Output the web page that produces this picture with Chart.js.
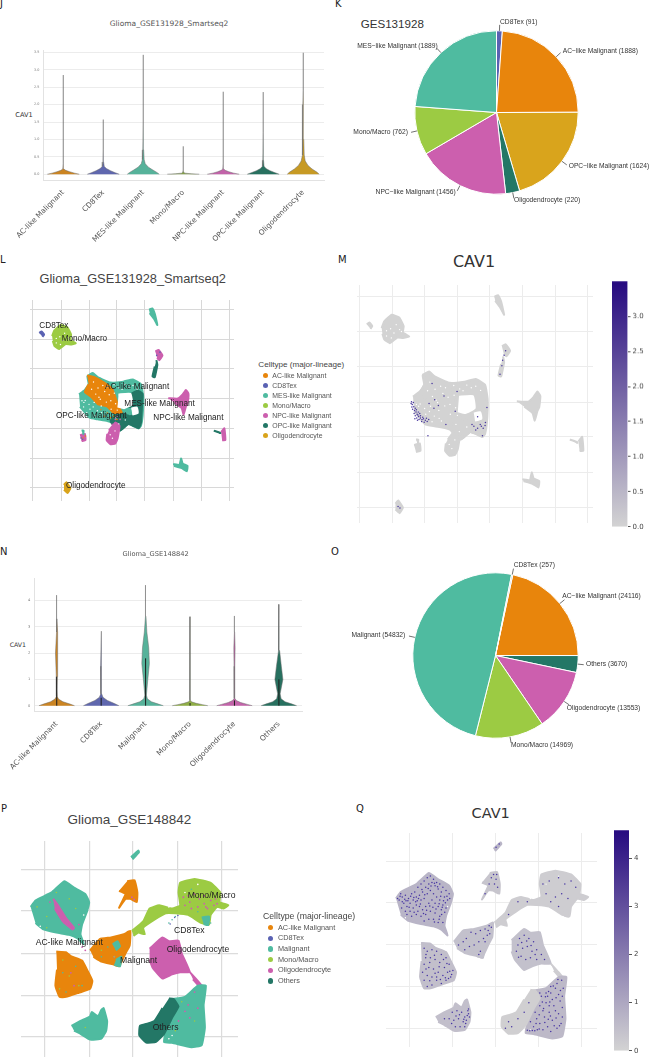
<!DOCTYPE html>
<html><head><meta charset="utf-8">
<style>
html,body{margin:0;padding:0;background:#fff;}
#page{position:relative;width:650px;height:1061px;overflow:hidden;background:#fff;}
canvas{position:absolute;display:block;}
.t{position:absolute;white-space:nowrap;line-height:1;}
.d{position:absolute;border-radius:50%;}
</style>
<script src="https://cdn.jsdelivr.net/npm/chart.js@4"></script>
</head><body><div id="page"></div>
<script>
// ---------- colours
const ORANGE='#e8850c',BLUE='#5a62b3',TEAL='#4fbba0',LIME='#9ccb43',PINK='#cc5fae',DARK='#237766',GOLD='#d9a41c';

// ---------- violin panel J
const catsJ=['AC-like Malignant','CD8Tex','MES-like Malignant','Mono/Macro','NPC-like Malignant','OPC-like Malignant','Oligodendrocyte'];
const colorsJ=['#cb8422','#5f67ae','#56b29a','#84a04a','#c263a9','#27705f','#c79a24'];
const jAC=[[0,.40],[.03,.28],[.07,.16],[.11,.06],[.15,.012],[.3,.004],[1.0,.003],[2.85,.002]];
const jCD8=[[0,.40],[.04,.3],[.1,.18],[.16,.08],[.22,.025],[.35,.008],[.7,.004],[1.57,.003]];
const jMES=[[0,.40],[.05,.34],[.12,.24],[.2,.13],[.3,.05],[.42,.022],[.7,.01],[1.5,.006],[2.5,.004],[3.43,.002]];
const jMono=[[0,.40],[.012,.2],[.03,.04],[.06,.01],[.12,.004],[.8,.002]];
const jNPC=[[0,.40],[.03,.26],[.07,.14],[.11,.05],[.15,.01],[.3,.004],[2.37,.002]];
const jOPC=[[0,.40],[.04,.3],[.1,.17],[.16,.07],[.23,.02],[.4,.008],[1.2,.005],[2.36,.002]];
const jOligo=[[0,.40],[.06,.34],[.15,.22],[.25,.12],[.38,.05],[.55,.025],[1.0,.014],[2.0,.008],[2.4,.004],[3.49,.002]];
const violinsJ=[jAC,jCD8,jMES,jMono,jNPC,jOPC,jOligo];
const ticksJ=[0,.5,1,1.5,2,2.5,3,3.5];

// ---------- violin panel N
const catsN=['AC-like Malignant','CD8Tex','Malignant','Mono/Macro','Oligodendrocyte','Others'];
const colorsN=['#cb8422','#5f67ae','#56b29a','#8fae45','#c263a9','#27705f'];
const nAC=[[0,.40],[.06,.3],[.15,.14],[.25,.04],[.35,.01],[.6,.005],[1.1,.01],[2,.028],[2.8,.012],[3.3,.003],[4.2,.002]];
const nCD8=[[0,.40],[.08,.3],[.2,.14],[.32,.04],[.45,.012],[.8,.006],[1.5,.012],[2.83,.002]];
const nMal=[[0,.40],[.06,.29],[.15,.13],[.26,.04],[.4,.018],[1.0,.05],[1.6,.085],[2.2,.07],[2.8,.028],[3.4,.008],[4.58,.002]];
const nMono=[[0,.40],[.04,.28],[.09,.14],[.15,.03],[.22,.006],[.5,.003],[3.38,.002]];
const nOligo=[[0,.40],[.05,.29],[.12,.14],[.2,.04],[.28,.008],[.6,.004],[1.5,.01],[2.2,.014],[2.8,.004],[3.41,.002]];
const nOthers=[[0,.40],[.06,.3],[.15,.14],[.26,.05],[.45,.028],[1.0,.09],[1.5,.055],[2.1,.016],[2.6,.004],[3.85,.002]];
const violinsN=[nAC,nCD8,nMal,nMono,nOligo,nOthers];
const innerN=[1.1,.3,1.8,.1,.2,1.0];
const ticksN=[0,1,2,3,4];

// ---------- pies
const pieKLabels=['CD8Tex','AC−like Malignant','OPC−like Malignant','Oligodendrocyte','NPC−like Malignant','Mono/Macro','MES−like Malignant'];
const pieKValues=[91,1888,1624,220,1456,762,1889];
const pieKColors=[BLUE,ORANGE,GOLD,DARK,PINK,LIME,TEAL];
const pieOLabels=['AC−like Malignant','Others','Oligodendrocyte','Mono/Macro','Malignant','CD8Tex'];
const pieOValues=[24116,3670,13553,14969,54832,257];
const pieOColors=[ORANGE,DARK,PINK,LIME,TEAL,'#a9b4c4'];

// ---------- UMAP 1 (panels L and M, arbitrary embedding units)
const grid1X=[88,176,263,350,437,525,614,700], grid1Y=[167,260,352,446,538,631,724];
const u1MES=[[232,432],[250,418],[262,400],[258,375],[275,365],[290,378],[330,395],[370,392],[400,385],[425,400],[432,440],[430,500],[425,530],[418,538],[400,530],[385,525],[360,545],[345,525],[320,515],[290,510],[265,505],[235,470]];
const u1Hole=[[355,432],[392,430],[397,462],[372,475],[352,470]];
const u1Hole2=[[395,476],[412,473],[415,490],[398,495]];
const u1AC=[[257,373],[280,378],[310,395],[335,415],[345,440],[355,470],[365,488],[340,490],[320,470],[290,462],[270,440],[250,425],[262,400]];
const u1OPC=[[395,430],[415,420],[430,430],[428,470],[425,520],[418,538],[400,530],[385,525],[360,545],[340,530],[330,515],[345,495],[365,490],[390,500],[410,495],[416,475],[385,470],[375,455]];
const u1NPC=[[325,545],[345,520],[358,530],[352,570],[345,585],[330,588],[318,575],[320,555]];
const u1CD8=[[108,240],[115,235],[123,245],[118,252]];
const u1Mono=[[148,250],[155,232],[175,215],[195,222],[207,245],[205,262],[222,272],[205,276],[190,275],[170,290],[155,280],[150,265]];
const u1Top=[[450,167],[460,163],[468,180],[476,215],[465,195],[452,178]];
const u1MidN=[[470,298],[480,293],[492,310],[482,325],[475,318]];
const u1MidO=[[473,325],[476,340],[468,378],[461,376],[468,345]];
const u1RightN=[[510,444],[540,445],[555,432],[565,418],[573,430],[570,460],[565,470],[558,495],[552,475],[530,458]];
const u1FarN=[[675,550],[685,538],[688,575],[678,575]];
const u1FarO=[[652,545],[672,552],[672,556]];
const u1LowM=[[525,650],[545,652],[550,632],[555,648],[570,655],[568,672],[552,662],[528,655]];
const u1SmallN=[[235,560],[250,555],[252,575],[240,578]];
const u1SmallM=[[240,545],[246,545],[245,558]];
const u1Oligo=[[185,715],[192,706],[205,725],[196,740],[185,730]];
const polys1=[u1MES,u1OPC,u1AC,u1Hole,u1Hole2,u1NPC,u1CD8,u1Mono,u1Top,u1MidN,u1MidO,u1RightN,u1FarN,u1FarO,u1LowM,u1SmallN,u1SmallM,u1Oligo];
const colors1=[TEAL,DARK,ORANGE,'#fff','#fff',PINK,BLUE,LIME,TEAL,PINK,DARK,PINK,PINK,DARK,TEAL,PINK,TEAL,GOLD];
const white1=[291,412,312,423,298,447,331,452,346,461,326,433,284,431,271,416,251,451,266,478,289,483,308,496,246,471,301,468,332,478,357,411,388,408,376,401,172,252,181,263,161,257,187,241,196,254,174,276,277,393,319,408,341,402,279,457,256,489,400,404,347,505,336,569,329,558,344,546,306,404,294,441,317,456,351,481,376,512,356,524,241,452,276,471,302,489,161,271,201,259,263,463,247,457,283,498,342,428,366,416,413,415];
const orange1=[300,480,320,490,340,500,330,505,350,510,244,568,252,562,310,500];
const pink1=[350,500,345,510,360,510,335,525,482,305,478,312];
const blue1=[484,300,474,310,238,568,243,572];
const purple1=[228,445,233,447,227,450,230,452,234,458,229,459,231,465,238,462,236,468,241,466,240,472,246,472,235,476,243,478,250,476,245,480,238,482,247,484,252,482,242,488,258,486,252,488,268,489,248,492,256,492,260,490,237,490,274,492,265,494,244,494,255,497,262,499,270,497,350,418,283,397,300,455,315,430,288,462,320,505,345,470,430,460,426,500,405,485,395,510,405,515,415,510,425,508,400,520,420,515,412,505,390,505,418,535,272,535,472,335,470,350,465,372,480,310,476,322,192,722,197,726,290,440,275,450];

// ---------- UMAP 2 (panels P and Q, arbitrary embedding units)
const grid2X=[124,262,398,536,673], grid2Y=[229,358,490,620,750];
const u2UL=[[80,345],[95,325],[145,300],[185,265],[215,285],[250,305],[262,330],[255,360],[240,400],[235,430],[245,460],[225,442],[200,432],[160,425],[120,415],[95,395]];
const u2Streak=[[150,320],[165,340],[190,380],[215,410],[210,415],[180,390],[155,350]];
const u2LL=[[160,484],[190,486],[205,498],[240,512],[255,540],[272,575],[265,600],[230,612],[190,625],[170,625],[157,590],[162,540]];
const u2Mid=[[265,480],[295,445],[330,440],[370,430],[390,420],[388,465],[375,490],[355,530],[340,525],[300,515],[275,500]];
const u2Frag1=[[335,462],[350,452],[358,468],[345,480]];
const u2Frag2=[[345,510],[362,500],[358,530],[340,525]];
const u2Top=[[380,265],[403,262],[412,300],[410,330],[390,320],[375,320],[355,348],[375,305],[355,295]];
const u2Thin=[[392,190],[415,170],[417,175],[397,197]];
const u2Mono=[[395,420],[430,390],[450,350],[480,340],[520,350],[545,340],[540,300],[545,270],[590,258],[640,270],[670,300],[668,330],[695,340],[680,350],[660,345],[640,370],[635,400],[610,395],[570,370],[530,365],[500,365],[465,385],[430,410],[435,430],[415,425],[400,435]];
const u2MonoTeal=[[612,378],[635,375],[632,402],[618,398]];
const u2Oligo=[[450,475],[490,440],[510,452],[540,450],[550,490],[575,548],[545,548],[520,555],[490,568],[460,535],[450,510]];
const u2Bridge=[[575,548],[600,575],[612,590],[605,592],[585,570]];
const u2LR=[[520,632],[560,625],[600,590],[625,590],[618,650],[622,720],[612,775],[580,782],[520,768],[495,765],[500,735],[520,690],[540,655]];
const u2Others=[[510,630],[525,632],[540,655],[520,690],[495,740],[470,765],[440,767],[418,745],[420,715],[445,708],[465,700],[490,660]];
const u2BL=[[207,715],[235,700],[265,685],[270,672],[290,685],[300,665],[307,660],[318,700],[315,730],[300,755],[265,758],[235,740],[215,730]];
const polys2=[u2UL,u2Streak,u2LL,u2Mid,u2Frag1,u2Frag2,u2Top,u2Thin,u2Mono,u2MonoTeal,u2Oligo,u2Bridge,u2LR,u2Others,u2BL];
const colors2=[TEAL,PINK,ORANGE,ORANGE,TEAL,TEAL,ORANGE,TEAL,LIME,TEAL,PINK,PINK,TEAL,DARK,TEAL];
const levels2=[.15,.15,.1,.09,.09,.09,.07,.15,.03,.03,.09,.03,.13,.02,.1];
const pink2=[555,315,575,330,590,305,605,320,620,335,640,325,655,320,650,340,630,350,600,345,580,350,560,340,570,310,620,310,660,335,625,345,395,315,402,322,170,360,140,330,185,395,230,400,560,670,570,650,590,610,540,700,600,660,575,690,205,550,215,590,340,500,240,470,250,480];
const lime2=[100,345,130,375,160,300,200,320,220,350,130,410,180,510,200,560,230,590,170,600,300,480,340,500,550,640,590,700,530,730,250,720];
const teal2=[180,550,220,530,240,590,190,610,320,470,300,500,510,395,520,385,530,375,640,395,580,290,600,360];
const white2=[200,480,215,495,235,490,255,510,275,530,190,445,235,475,250,495,270,515,300,535,110,405,245,370,560,300,600,275,510,345,520,745,510,755];
const blue2=[514,398,528,378,538,372];
const purple2=[90,350,100,340,110,335,120,345,105,360,115,370,130,330,140,325,135,350,125,360,145,340,150,310,160,300,170,290,180,280,190,275,200,285,210,295,220,300,230,310,240,320,250,330,245,350,235,340,225,325,215,315,205,305,195,295,185,300,175,310,165,325,155,335,160,350,170,345,180,330,190,320,200,330,210,340,220,350,230,365,240,375,225,380,215,370,205,360,195,350,185,360,175,370,165,380,155,370,145,365,135,375,125,385,115,395,130,400,145,395,160,400,175,395,190,385,205,390,220,400,230,420,215,420,200,410,185,410,170,415,150,385,110,385,98,375,100,355,85,345,95,330,
93,338,108,347,118,352,127,338,137,342,143,355,152,345,163,317,172,333,183,314,192,306,203,297,213,308,223,338,232,352,243,338,252,345,238,358,228,372,218,361,208,378,198,372,188,368,178,382,168,392,158,362,148,352,138,388,122,372,112,352,203,418,218,410,226,395,236,388,
170,500,180,510,195,505,210,510,225,520,240,530,250,550,262,570,255,590,240,600,225,610,210,600,195,615,180,620,170,600,165,575,170,550,175,530,190,530,205,535,220,545,235,560,245,575,230,585,215,575,200,565,185,560,180,585,195,590,210,590,248,595,258,582,176,520,188,545,203,522,218,558,232,535,243,548,252,572,238,592,222,598,205,578,188,602,176,565,
280,490,295,480,305,470,320,450,335,455,350,445,365,440,375,445,385,435,372,460,380,455,360,470,345,480,330,490,315,495,300,505,350,510,345,520,365,480,378,430,
385,280,392,270,400,285,378,300,405,310,395,300,365,330,402,270,400,185,410,175,
570,290,600,280,620,300,640,290,655,310,560,330,590,340,610,330,630,345,600,370,575,355,550,300,470,355,500,355,440,395,
475,470,490,460,505,470,520,480,470,490,485,500,500,495,515,510,530,505,545,520,465,510,480,525,495,535,510,530,530,535,555,535,482,482,498,478,512,492,525,520,472,528,
540,640,560,640,575,620,595,610,610,600,615,625,600,645,580,660,560,670,540,680,525,700,510,730,520,745,540,735,555,715,570,700,585,680,605,665,612,685,600,705,580,725,565,745,550,755,575,760,595,750,608,735,612,715,590,695,570,680,550,695,530,720,500,756,508,758,516,757,524,758,532,755,545,650,565,650,590,625,548,668,558,652,568,635,583,618,598,598,606,632,592,655,572,668,552,688,538,708,528,735,538,752,556,732,574,712,592,718,603,742,586,742,567,722,612,650,575,640,
440,730,450,745,470,720,490,700,430,750,505,670,
260,700,275,695,290,700,300,715,310,695,312,705,315,715,308,710,305,725,312,690,295,730,280,720,265,725,250,720,235,720,285,745,270,745,300,745,283,708,297,722,272,712,258,735,303,735];

// ---------- colourbars
const barMTicks=[0,.5,1,1.5,2,2.5,3];
const barQTicks=[0,1,2,3,4];

// ---------- legends
const legendL=[['AC-like Malignant',ORANGE],['CD8Tex',BLUE],['MES-like Malignant',TEAL],['Mono/Macro',LIME],['NPC-like Malignant',PINK],['OPC-like Malignant',DARK],['Oligodendrocyte',GOLD]];
const legendP=[['AC-like Malignant',ORANGE],['CD8Tex',BLUE],['Malignant',TEAL],['Mono/Macro',LIME],['Oligodendrocyte',PINK],['Others',DARK]];

// ====================================================== helpers
const page=document.getElementById('page');
const SANS='"Liberation Sans",Arial,sans-serif', DJ='"DejaVu Sans",sans-serif';
function text(x,y,s,o={}){
  const e=document.createElement('div');e.className='t';e.textContent=s;
  e.style.left=x+'px';e.style.top=y+'px';
  e.style.fontFamily=o.font||SANS;e.style.fontSize=(o.size||8)+'px';e.style.color=o.color||'#333';
  const tx=o.align==='center'?'-50%':o.align==='right'?'-100%':'0';
  e.style.transform=`translate(${tx},-50%)`;
  page.appendChild(e);
}
function canvas(x,y,w,h){
  const c=document.createElement('canvas');c.width=w;c.height=h;
  c.style.left=x+'px';c.style.top=y+'px';c.style.width=w+'px';c.style.height=h+'px';
  page.appendChild(c);return c;
}
const pts=f=>{const r=[];for(let i=0;i<f.length;i+=2)r.push({x:f[i],y:f[i+1]});return r;};
const polyDs=(p,col)=>({data:p.map(q=>({x:q[0],y:q[1]})),showLine:true,fill:'shape',backgroundColor:col,borderColor:col,borderWidth:2,pointRadius:0,tension:0.12});
const speck=(f,col,r)=>({data:pts(f),showLine:false,pointRadius:r,pointBorderWidth:0,pointBackgroundColor:col,backgroundColor:col});

function umap(px,py,w,h,xr,yr,gx,gy,ds,gridCol,gridW){
  const grid={color:gridCol,lineWidth:gridW,drawTicks:false};
  // Chart.js paints the first dataset on top, so the list (bottom-first) is reversed
  new Chart(canvas(px,py,w,h),{type:'scatter',data:{datasets:ds.slice().reverse()},options:{
    responsive:false,animation:false,layout:{padding:0},
    plugins:{legend:{display:false},tooltip:{enabled:false}},
    scales:{
      x:{type:'linear',min:xr[0],max:xr[1],grid,border:{display:false},ticks:{display:false},afterBuildTicks:a=>{a.ticks=gx.map(v=>({value:v}));}},
      y:{type:'linear',min:yr[0],max:yr[1],reverse:true,grid,border:{display:false},ticks:{display:false},afterBuildTicks:a=>{a.ticks=gy.map(v=>({value:v}));}}
    }}});
}
function violin(py,h,leftW,rightPad,topPad,bottomH,cats,cols,shapes,inner,yMin,yMax,yTicks,dec,xr,tickFont){
  const ds=[];
  shapes.forEach((s,i)=>{
    const right=s.map(p=>({x:i+p[1],y:p[0]}));
    const left=s.slice().reverse().map(p=>({x:i-p[1],y:p[0]}));
    if(inner)ds.push({data:[{x:i,y:0},{x:i,y:inner[i]}],showLine:true,borderColor:'#1c1c1c',borderWidth:1,pointRadius:0});
    ds.push({data:right.concat(left),showLine:true,fill:'shape',backgroundColor:cols[i],borderColor:'#6a6a6a',borderWidth:.5,pointRadius:0,tension:0});
  });
  new Chart(canvas(0,py,335,h),{type:'scatter',data:{datasets:ds},options:{
    responsive:false,animation:false,layout:{padding:{top:topPad,right:rightPad}},
    plugins:{legend:{display:false},tooltip:{enabled:false}},
    scales:{
      x:{type:'linear',min:xr[0],max:xr[1],grid:{display:false},border:{display:true,color:'#e2e2e2',width:1},
        afterBuildTicks:a=>{a.ticks=cats.map((c,i)=>({value:i}));},afterFit:s=>{s.height=bottomH;},
        ticks:{autoSkip:false,minRotation:45,maxRotation:45,padding:0,color:'#555',font:{family:DJ,size:7.4},callback:v=>cats[v]}},
      y:{type:'linear',min:yMin,max:yMax,grid:{color:'#ececec',lineWidth:1,drawTicks:false},border:{display:true,color:'#e2e2e2',width:1},
        afterBuildTicks:a=>{a.ticks=yTicks.map(v=>({value:v}));},afterFit:s=>{s.width=leftW;},
        ticks:{padding:4,color:'#777',font:{family:DJ,size:tickFont},callback:v=>v.toFixed(dec)}}
    }}});
}
const leaders={id:'leaders',afterDatasetsDraw(c){
  const g=c.ctx;g.save();g.strokeStyle='#333';g.lineWidth=.7;
  c.getDatasetMeta(0).data.forEach(a=>{
    const m=(a.startAngle+a.endAngle)/2,r=a.outerRadius;
    g.beginPath();g.moveTo(a.x+Math.cos(m)*r,a.y+Math.sin(m)*r);
    g.lineTo(a.x+Math.cos(m)*(r+6),a.y+Math.sin(m)*(r+6));g.stroke();
  });g.restore();
}};
function pie(cx,cy,r,labels,values,cols,rot){
  const m=r+10,s=Math.round(2*m);
  new Chart(canvas(cx-m,cy-m,s,s),{type:'pie',data:{labels,datasets:[{data:values,backgroundColor:cols,borderColor:'#fff',borderWidth:1,radius:r,hoverOffset:0}]},
    options:{responsive:false,animation:false,rotation:rot,layout:{padding:0},plugins:{legend:{display:false},tooltip:{enabled:false}}},plugins:[leaders]});
}
function colorbar(px,py,barW,totalW,barH,maxV,ticks,dec){
  const pad=6;
  new Chart(canvas(px,py-pad,totalW,barH+2*pad),{type:'bar',data:{labels:['CAV1'],datasets:[{data:[[0,maxV]],barPercentage:1,categoryPercentage:1,
      backgroundColor:ctx=>{const a=ctx.chart.chartArea;if(!a)return '#999';const g=ctx.chart.ctx.createLinearGradient(0,a.bottom,0,a.top);g.addColorStop(0,'#d3d3d3');g.addColorStop(1,'#260a80');return g;}}]},
    options:{responsive:false,animation:false,layout:{padding:{top:pad,bottom:pad}},plugins:{legend:{display:false},tooltip:{enabled:false}},
      scales:{x:{display:false},
        y:{position:'right',min:0,max:maxV,grid:{drawOnChartArea:false,drawTicks:true,tickLength:3,color:'#555'},border:{display:false},
          afterBuildTicks:a=>{a.ticks=ticks.map(v=>({value:v}));},afterFit:s=>{s.width=totalW-barW;},
          ticks:{padding:2,color:'#444',font:{family:DJ,size:7},callback:v=>v.toFixed(dec)}}}}});
}
function mix(l){const A=[211,211,211],B=[38,10,128];return `rgb(${A.map((a,i)=>Math.round(a+(B[i]-a)*l)).join(',')})`;}
function legend(x,yT,title,items,xDot,xTxt,yStart,step,sz,tsz){
  text(x,yT,title,{size:tsz,color:'#444'});
  items.forEach((it,i)=>{
    const y=yStart+i*step,d=document.createElement('div');d.className='d';
    d.style.cssText+=`left:${xDot-2.7}px;top:${y-2.7}px;width:5.4px;height:5.4px;background:${it[1]}`;
    page.appendChild(d);
    text(xTxt,y,it[0],{size:sz,color:'#555'});
  });
}

// ====================================================== panel letters
[['J',0,4],['K',335,4],['L',0,260],['M',338,260],['N',0,552],['O',331,552],['P',1,809],['Q',356,809]].forEach(l=>text(l[1],l[2],l[0],{size:10,font:DJ,color:'#222'}));

// ------ J
text(169,23.7,'Glioma_GSE131928_Smartseq2',{size:7.5,font:DJ,align:'center',color:'#555'});
text(15.3,114.7,'CAV1',{size:6.6,font:DJ,color:'#333'});
violin(0,250,43.3,11,50,69.7,catsJ,colorsJ,violinsJ,null,-.176,3.57,ticksJ,1,[-.5,6.52],3.4);

// ------ K
text(360.7,24.3,'GES131928',{size:11.6,color:'#333'});
pie(496.7,112.3,81.7,pieKLabels,pieKValues,pieKColors,0);
[['CD8Tex (91)',500,21.7,'left'],['AC−like Malignant (1888)',562.7,50.7,'left'],['OPC−like Malignant (1624)',568.7,165.7,'left'],['Oligodendrocyte (220)',514,200.3,'left'],['NPC−like Malignant (1456)',455.7,192.3,'right'],['Mono/Macro (762)',408,132,'right'],['MES−like Malignant (1889)',437.7,45.7,'right']]
  .forEach(l=>text(l[1],l[2],l[0],{size:6.7,align:l[3],color:'#333'}));

// ------ L
text(132.7,279.3,'Glioma_GSE131928_Smartseq2',{size:12.8,align:'center',color:'#444'});
umap(26,296,212,209,[79,715],[137,765],grid1X,grid1Y,
  polys1.map((p,i)=>polyDs(p,colors1[i])).concat([speck(orange1,ORANGE,.8),speck(pink1,PINK,.8),speck(blue1,BLUE,.8),speck(white1,'#fff',.7)]),'#d8d8d8',1);
[['CD8Tex',118,228],['Mono/Macro',185,268],['AC-like Malignant',315,411],['MES-like Malignant',373,461],['OPC-like Malignant',168,498],['NPC-like Malignant',460,505],['Oligodendrocyte',198,707]]
  .forEach(l=>text(l[1]/3,250+l[2]/3,l[0],{size:8.2,color:'#222'}));
legend(258.3,364.7,'Celltype (major-lineage)',legendL,265.3,272.3,375.7,10,6.9,8.1);

// ------ M
text(474,261.7,'CAV1',{size:16,font:DJ,align:'center',color:'#333'});
umap(353,281,244,246,[82,714],[136,766],grid1X,grid1Y,
  polys1.map((p,i)=>polyDs(p,colors1[i]==='#fff'?'#fff':'#d3d3d3')).concat([speck(white1,'#fff',.7),speck(purple1,'#4a389f',.75)]),'#ececec',1);
colorbar(612,281,15.5,38,245.7,3.5,barMTicks,1);

// ------ N
text(155.7,553.7,'Glioma_GSE148842',{size:6.7,font:DJ,align:'center',color:'#555'});
text(9.7,645,'CAV1',{size:6.2,font:DJ,color:'#333'});
violin(530,250,34.3,33,48.3,68.3,catsN,colorsN,violinsN,innerN,-.228,4.84,ticksN,0,[-.505,5.52],3.6);

// ------ O
pie(495.3,655.3,82.7,pieOLabels,pieOValues,pieOColors,12.1);
[['CD8Tex (257)',513.7,565.3,'left'],['AC−like Malignant (24116)',562.3,596.3,'left'],['Others (3670)',586,664.3,'left'],['Oligodendrocyte (13553)',566.7,708.3,'left'],['Mono/Macro (14969)',511,745,'left'],['Malignant (54832)',405.3,635,'right']]
  .forEach(l=>text(l[1],l[2],l[0],{size:6.7,align:l[3],color:'#333'}));

// ------ P
text(129.3,820,'Glioma_GSE148842',{size:13.5,align:'center',color:'#444'});
umap(17,837,225,224,[50,725],[140,812],grid2X,grid2Y,
  polys2.map((p,i)=>polyDs(p,colors2[i])).concat([speck(white2,'#fff',.8),speck(pink2,PINK,.9),speck(lime2,LIME,.8),speck(teal2,TEAL,.8),speck(blue2,BLUE,.8)]),'#dcdcdc',1.2);
[['Mono/Macro',563,315],['CD8Tex',522,419],['AC-like Malignant',107,455],['Oligodendrocyte',500,477],['Malignant',360,509],['Others',458,710]]
  .forEach(l=>text(l[1]/3,790+l[2]/3,l[0],{size:8.6,color:'#222'}));
legend(263,916.3,'Celltype (major-lineage)',legendP,270.3,278,927.7,10.65,7.3,8.7);

// ------ Q
text(490.7,812.7,'CAV1',{size:14.5,font:DJ,align:'center',color:'#333'});
umap(382,829,219,222,[48,723],[140.5,808.5],grid2X,grid2Y,
  polys2.map((p,i)=>polyDs(p,mix(levels2[i]))).concat([speck(white2,'#fff',.7),speck(purple2,'#4634a3',.75)]),'#ececec',1);
colorbar(614.3,829.7,15,35,221,4.58,barQTicks,0);
</script></body></html>
